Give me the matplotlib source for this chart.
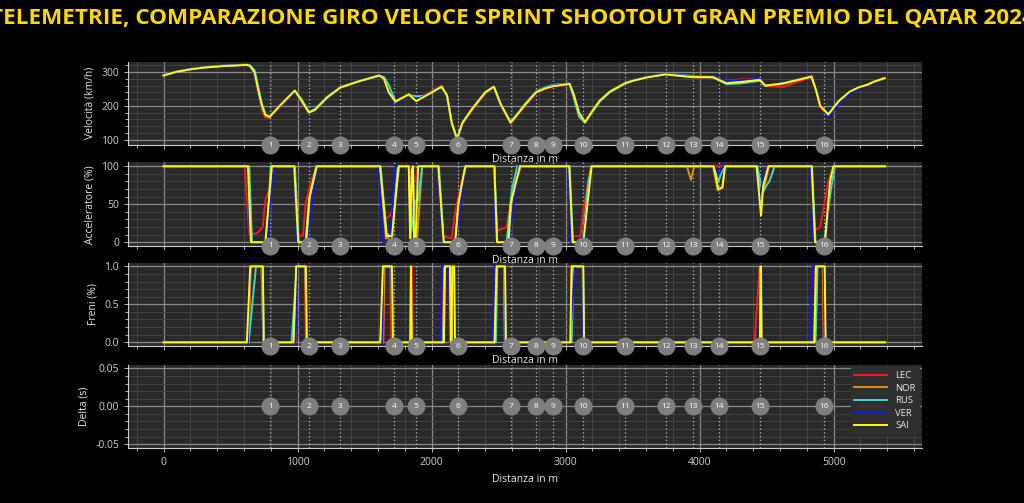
import matplotlib
matplotlib.use("Agg")
import matplotlib.pyplot as plt
from matplotlib.ticker import AutoMinorLocator, MultipleLocator
from matplotlib.lines import Line2D

drivers = ["LEC", "NOR", "RUS", "VER", "SAI"]
colors = {"LEC": "#ff1a1a", "NOR": "#e08c1a", "RUS": "#3fd8c8", "VER": "#1414ff", "SAI": "#ffff00"}

corner_num = [str(i) for i in range(1, 17)]
corner_dist = [796, 1085, 1316, 1719, 1883, 2194, 2592, 2779, 2908, 3132, 3445, 3747, 3953, 4147, 4451, 4931]

# velocita (km/h)
dist_v = [0, 100, 200, 300, 420, 520, 620, 645, 680, 710,
          735, 760, 790, 880, 980, 1030, 1085, 1130, 1220, 1320,
          1460, 1610, 1645, 1680, 1730, 1830, 1885, 1950, 2075, 2115,
          2150, 2190, 2230, 2300, 2400, 2465, 2515, 2590, 2640, 2700,
          2780, 2850, 2905, 3030, 3060, 3100, 3145, 3200, 3255, 3330,
          3445, 3500, 3605, 3745, 3950, 4100, 4200, 4300, 4450, 4490,
          4625, 4835, 4870, 4900, 4960, 5040, 5120, 5190, 5250, 5300,
          5380]
speed = {
    "LEC": [292, 302, 309, 314, 318, 320, 322, 316, 290, 228,
            185, 165, 166, 200, 244, 212, 178, 186, 222, 253,
            273, 290, 278, 238, 214, 232, 216, 232, 260, 228,
            146, 103, 146, 186, 236, 256, 200, 147, 170, 202,
            238, 250, 257, 264, 238, 178, 150, 182, 214, 241,
            266, 274, 285, 293, 286, 286, 271, 278, 280, 258,
            256, 285, 242, 196, 170, 212, 240, 253, 261, 271,
            283],
    "NOR": [290, 301, 308, 313, 317, 319, 321, 318, 296, 238,
            196, 172, 167, 204, 245, 214, 179, 188, 224, 254,
            273, 289, 280, 241, 212, 233, 215, 229, 256, 230,
            150, 102, 149, 189, 239, 256, 203, 150, 174, 205,
            241, 252, 259, 265, 236, 181, 152, 185, 216, 242,
            268, 275, 285, 294, 284, 284, 266, 270, 276, 259,
            265, 286, 246, 200, 174, 214, 241, 254, 262, 271,
            282],
    "RUS": [290, 301, 308, 314, 318, 320, 322, 320, 305, 250,
            205, 178, 168, 205, 244, 220, 182, 190, 226, 255,
            273, 289, 285, 262, 214, 232, 228, 230, 256, 232,
            152, 101, 148, 188, 238, 256, 206, 152, 176, 207,
            243, 255, 262, 266, 225, 168, 150, 182, 212, 240,
            266, 274, 284, 295, 288, 284, 264, 266, 274, 259,
            267, 287, 246, 200, 175, 214, 240, 253, 261, 270,
            281],
    "VER": [291, 302, 309, 314, 318, 320, 323, 316, 292, 232,
            192, 178, 168, 203, 243, 214, 178, 186, 222, 253,
            274, 291, 278, 236, 210, 233, 217, 230, 258, 226,
            148, 103, 150, 190, 240, 257, 202, 149, 172, 204,
            241, 253, 260, 266, 242, 182, 153, 186, 215, 243,
            268, 276, 285, 295, 286, 287, 272, 276, 280, 261,
            265, 289, 250, 205, 167, 206, 236, 251, 260, 270,
            282],
    "SAI": [290, 301, 308, 313, 317, 319, 321, 318, 298, 240,
            198, 174, 167, 205, 245, 215, 180, 188, 224, 254,
            273, 290, 280, 240, 212, 234, 214, 228, 257, 230,
            150, 102, 150, 190, 240, 257, 205, 150, 174, 204,
            240, 252, 258, 265, 235, 180, 152, 185, 215, 242,
            267, 274, 284, 293, 285, 285, 267, 270, 277, 260,
            266, 287, 245, 200, 174, 215, 242, 255, 262, 271,
            282],
}

# acceleratore (%)
throttle = {
    "LEC": ([0, 605, 640, 700, 740, 760, 790, 810, 975, 1000, 1040, 1060, 1100, 1144, 1610, 1650, 1690, 1720,
             1760, 1830, 1850, 1880, 1900, 2045, 2085, 2150, 2177, 2200, 2252, 2462, 2490, 2560, 2590, 2640,
             3025, 3050, 3110, 3130, 3190, 4425, 4450, 4480, 4520, 4830, 4855, 4900, 4960, 5000, 5384],
            [100, 100, 10, 12, 20, 55, 70, 100, 100, 10, 8, 50, 80, 100, 100, 30, 35, 50,
             100, 100, 80, 80, 100, 100, 8, 5, 40, 60, 100, 100, 15, 20, 50, 100,
             100, 8, 8, 40, 100, 100, 70, 70, 100, 100, 15, 20, 80, 100, 100]),
    "NOR": ([0, 632, 655, 765, 805, 975, 1005, 1060, 1090, 1140, 1612, 1660, 1700, 1750, 1830, 1845, 1860,
             1875, 1890, 1930, 2050, 2090, 2175, 2200, 2252, 2468, 2488, 2575, 2600, 2665, 3025, 3050, 3130,
             3190, 3905, 3935, 3960, 4100, 4135, 4170, 4190, 4425, 4460, 4490, 4515, 4835, 4860, 4935, 4975,
             5000, 5384],
            [100, 100, 0, 0, 100, 100, 0, 0, 60, 100, 100, 5, 5, 100, 100, 5, 100,
             0, 0, 100, 100, 0, 0, 50, 100, 100, 0, 0, 60, 100, 100, 0, 0,
             100, 100, 82, 100, 100, 68, 72, 100, 100, 60, 80, 100, 100, 0, 0, 85,
             100, 100]),
    "RUS": ([0, 640, 660, 770, 800, 980, 1008, 1060, 1085, 1140, 1620, 1665, 1700, 1750, 1830, 1850, 1880,
             1900, 1930, 2055, 2090, 2178, 2200, 2255, 2470, 2490, 2560, 2600, 2640, 3030, 3055, 3125, 3170,
             3195, 4105, 4140, 4180, 4430, 4470, 4500, 4520, 4560, 4838, 4865, 4930, 4980, 5010, 5384],
            [100, 100, 0, 0, 100, 100, 0, 0, 55, 100, 100, 10, 10, 100, 100, 15, 55,
             55, 100, 100, 0, 0, 50, 100, 100, 0, 0, 70, 100, 100, 0, 0, 80,
             100, 100, 80, 100, 100, 65, 75, 80, 100, 100, 0, 0, 70, 100, 100]),
    "VER": ([0, 628, 645, 775, 800, 830, 972, 1000, 1070, 1144, 1605, 1640, 1690, 1730, 1830, 1880, 1900,
             2045, 2085, 2180, 2252, 2465, 2480, 2580, 2620, 2650, 3020, 3040, 3125, 3170, 3194, 4110, 4145,
             4175, 4420, 4445, 4480, 4513, 4830, 4850, 4945, 4970, 5000, 5384],
            [100, 100, 0, 0, 60, 100, 100, 0, 0, 100, 100, 0, 0, 100, 100, 10, 100,
             100, 0, 0, 100, 100, 0, 0, 60, 100, 100, 0, 0, 60, 100, 100, 90,
             100, 100, 55, 90, 100, 100, 0, 0, 80, 100, 100]),
    "SAI": ([0, 630, 652, 760, 808, 975, 1005, 1065, 1090, 1144, 1615, 1665, 1705, 1755, 1830, 1840, 1852,
             1862, 1870, 1880, 1900, 2050, 2090, 2177, 2200, 2225, 2252, 2468, 2488, 2575, 2590, 2659, 3027,
             3052, 3132, 3194, 4105, 4139, 4170, 4189, 4425, 4458, 4475, 4513, 4836, 4861, 4936, 4973, 4998,
             5384],
            [100, 100, 0, 0, 100, 100, 0, 0, 60, 100, 100, 8, 8, 100, 100, 5, 95,
             100, 0, 0, 100, 100, 0, 0, 50, 75, 100, 100, 0, 0, 50, 100, 100,
             0, 0, 100, 100, 70, 72, 100, 100, 35, 75, 100, 100, 0, 0, 80, 100,
             100]),
}

# freni (0/1)
brake = {
    "LEC": ([0, 630, 655, 735, 745, 985, 995, 1055, 1062, 1640, 1650, 1690, 1700, 1846, 1852, 1858, 2080,
             2090, 2130, 2138, 2470, 2480, 2540, 2547, 3035, 3045, 3125, 3132, 4410, 4448, 4456, 4855, 4865,
             4918, 4925, 5384],
            [0, 0, 1, 1, 0, 0, 1, 1, 0, 0, 1, 1, 0, 0, 1, 0, 0,
             1, 1, 0, 0, 1, 1, 0, 0, 1, 1, 0, 0, 1, 0, 0, 1,
             1, 0, 0]),
    "NOR": ([0, 635, 648, 730, 745, 985, 995, 1058, 1065, 1638, 1648, 1698, 1706, 2085, 2095, 2135, 2142,
             2475, 2485, 2540, 2547, 3038, 3048, 3128, 3135, 4450, 4456, 4462, 4860, 4868, 4920, 4927, 5384],
            [0, 0, 1, 1, 0, 0, 1, 1, 0, 0, 1, 1, 0, 0, 1, 1, 0,
             0, 1, 1, 0, 0, 1, 1, 0, 0, 1, 0, 0, 1, 1, 0, 0]),
    "RUS": ([0, 635, 690, 740, 748, 955, 995, 1060, 1068, 1620, 1640, 1702, 1710, 2088, 2098, 2140, 2148,
             2480, 2490, 2545, 2552, 3045, 3060, 3130, 3137, 4452, 4458, 4464, 4865, 4880, 4930, 4937, 5384],
            [0, 0, 1, 1, 0, 0, 1, 1, 0, 0, 1, 1, 0, 0, 1, 1, 0,
             0, 1, 1, 0, 0, 1, 1, 0, 0, 1, 0, 0, 1, 1, 0, 0]),
    "VER": ([0, 630, 645, 738, 746, 985, 1000, 1062, 1068, 1632, 1640, 1700, 1708, 2068, 2078, 2130, 2138,
             2455, 2470, 2545, 2552, 3030, 3070, 3125, 3132, 4452, 4458, 4464, 4820, 4845, 4925, 4932, 5384],
            [0, 0, 1, 1, 0, 0, 1, 1, 0, 0, 1, 1, 0, 0, 1, 1, 0,
             0, 1, 1, 0, 0, 1, 1, 0, 0, 1, 0, 0, 1, 1, 0, 0]),
    "SAI": ([0, 622, 647, 741, 748, 970, 990, 1062, 1070, 1617, 1637, 1704, 1712, 1840, 1846, 1853, 2092,
             2100, 2137, 2143, 2150, 2155, 2169, 2175, 2470, 2485, 2548, 2555, 3035, 3045, 3132, 3138, 4450,
             4456, 4463, 4855, 4868, 4933, 4940, 5384],
            [0, 0, 1, 1, 0, 0, 1, 1, 0, 0, 1, 1, 0, 0, 1, 0, 0,
             1, 1, 0, 0, 1, 1, 0, 0, 1, 1, 0, 0, 1, 1, 0, 0,
             1, 0, 0, 1, 1, 0, 0]),
}

plt.rcParams["font.family"] = ["Open Sans", "DejaVu Sans"]
plt.rcParams["text.color"] = "#e8e8e8"
plt.rcParams["axes.labelcolor"] = "#e8e8e8"
plt.rcParams["xtick.color"] = "#d0d0d0"
plt.rcParams["ytick.color"] = "#d0d0d0"

fig = plt.figure(figsize=(10.24, 5.03), dpi=100, facecolor="black")
left, width, h = 0.125, 0.7755, 0.166
bottoms = [0.7117, 0.511, 0.312, 0.1093]
axes = []
for b in bottoms:
    ax = fig.add_axes([left, b, width, h], sharex=axes[0] if axes else None)
    axes.append(ax)
ax1, ax2, ax3, ax4 = axes

for d in drivers:
    ax1.plot(dist_v, speed[d], color=colors[d], lw=1.4, label=d)
    ax2.plot(throttle[d][0], throttle[d][1], color=colors[d], lw=1.4)
    ax3.plot(brake[d][0], brake[d][1], color=colors[d], lw=1.4)

ax1.set_ylim(84, 331)
ax2.set_ylim(-5, 105)
ax3.set_ylim(-0.05, 1.05)
ax4.set_ylim(-0.055, 0.055)
ax4.set_xlim(-265, 5660)

ax1.set_ylabel("Velocità (km/h)", fontsize=7.5)
ax2.set_ylabel("Acceleratore (%)", fontsize=7.5)
ax3.set_ylabel("Freni (%)", fontsize=7.5)
ax4.set_ylabel("Delta (s)", fontsize=7.5)
ax2.yaxis.set_major_locator(MultipleLocator(50))
ax3.yaxis.set_major_locator(MultipleLocator(0.5))
ax3.yaxis.set_major_formatter(plt.FormatStrFormatter("%.1f"))
ax4.yaxis.set_major_locator(MultipleLocator(0.05))
ax4.yaxis.set_major_formatter(plt.FormatStrFormatter("%.2f"))
ax4.xaxis.set_major_locator(MultipleLocator(1000))

for i, ax in enumerate(axes):
    ax.set_facecolor("#292929")
    for s in ax.spines.values():
        s.set_visible(False)
    ax.spines["bottom"].set_visible(True)
    ax.spines["left"].set_visible(True)
    ax.spines["bottom"].set_color("#cfcfcf")
    ax.spines["left"].set_color("#cfcfcf")
    ax.xaxis.set_minor_locator(AutoMinorLocator(5))
    ax.yaxis.set_minor_locator(AutoMinorLocator(5))
    ax.grid(which="major", color="#8a8a8a", lw=0.9)
    ax.grid(which="minor", color="#444444", lw=0.7)
    ax.tick_params(which="both", labelsize=7.5, length=3, width=0.6)
    ax.tick_params(which="minor", length=2)
    ax.set_axisbelow(True)
    ax.set_xlabel("Distanza in m", fontsize=7.5, labelpad=4 if i == 3 else 1)
    if i < 3:
        ax.tick_params(axis="x", labelbottom=False)

    for x in corner_dist:
        ax.axvline(x, color="#bbbbbb", ls=(0, (1, 2)), lw=0.9, zorder=1)
    cy = 0.5 if i == 3 else 0.0
    ax.plot(corner_dist, [cy] * len(corner_dist), "o", ms=12, color="#7f7f7f",
            transform=ax.get_xaxis_transform(), clip_on=False, zorder=6)
    for x, n in zip(corner_dist, corner_num):
        ax.text(x, cy, n, transform=ax.get_xaxis_transform(), ha="center", va="center",
                fontsize=6, color="white", zorder=7, clip_on=False)

handles = [Line2D([0], [0], color=colors[d], lw=1.4) for d in drivers]
leg = ax4.legend(handles, drivers, loc="upper right", fontsize=6.8, facecolor="#2f2f2f",
                 edgecolor="#2f2f2f", framealpha=1, handlelength=3.5, labelspacing=0.38,
                 borderaxespad=0.3)
leg.set_zorder(10)

fig.text(0.5, 0.965, "TELEMETRIE, COMPARAZIONE GIRO VELOCE SPRINT SHOOTOUT GRAN PREMIO DEL QATAR 2024",
         ha="center", va="center", fontsize=16.2, fontweight="bold", color="#ffd700")

fig.savefig("out.png", dpi=100, facecolor="black")
